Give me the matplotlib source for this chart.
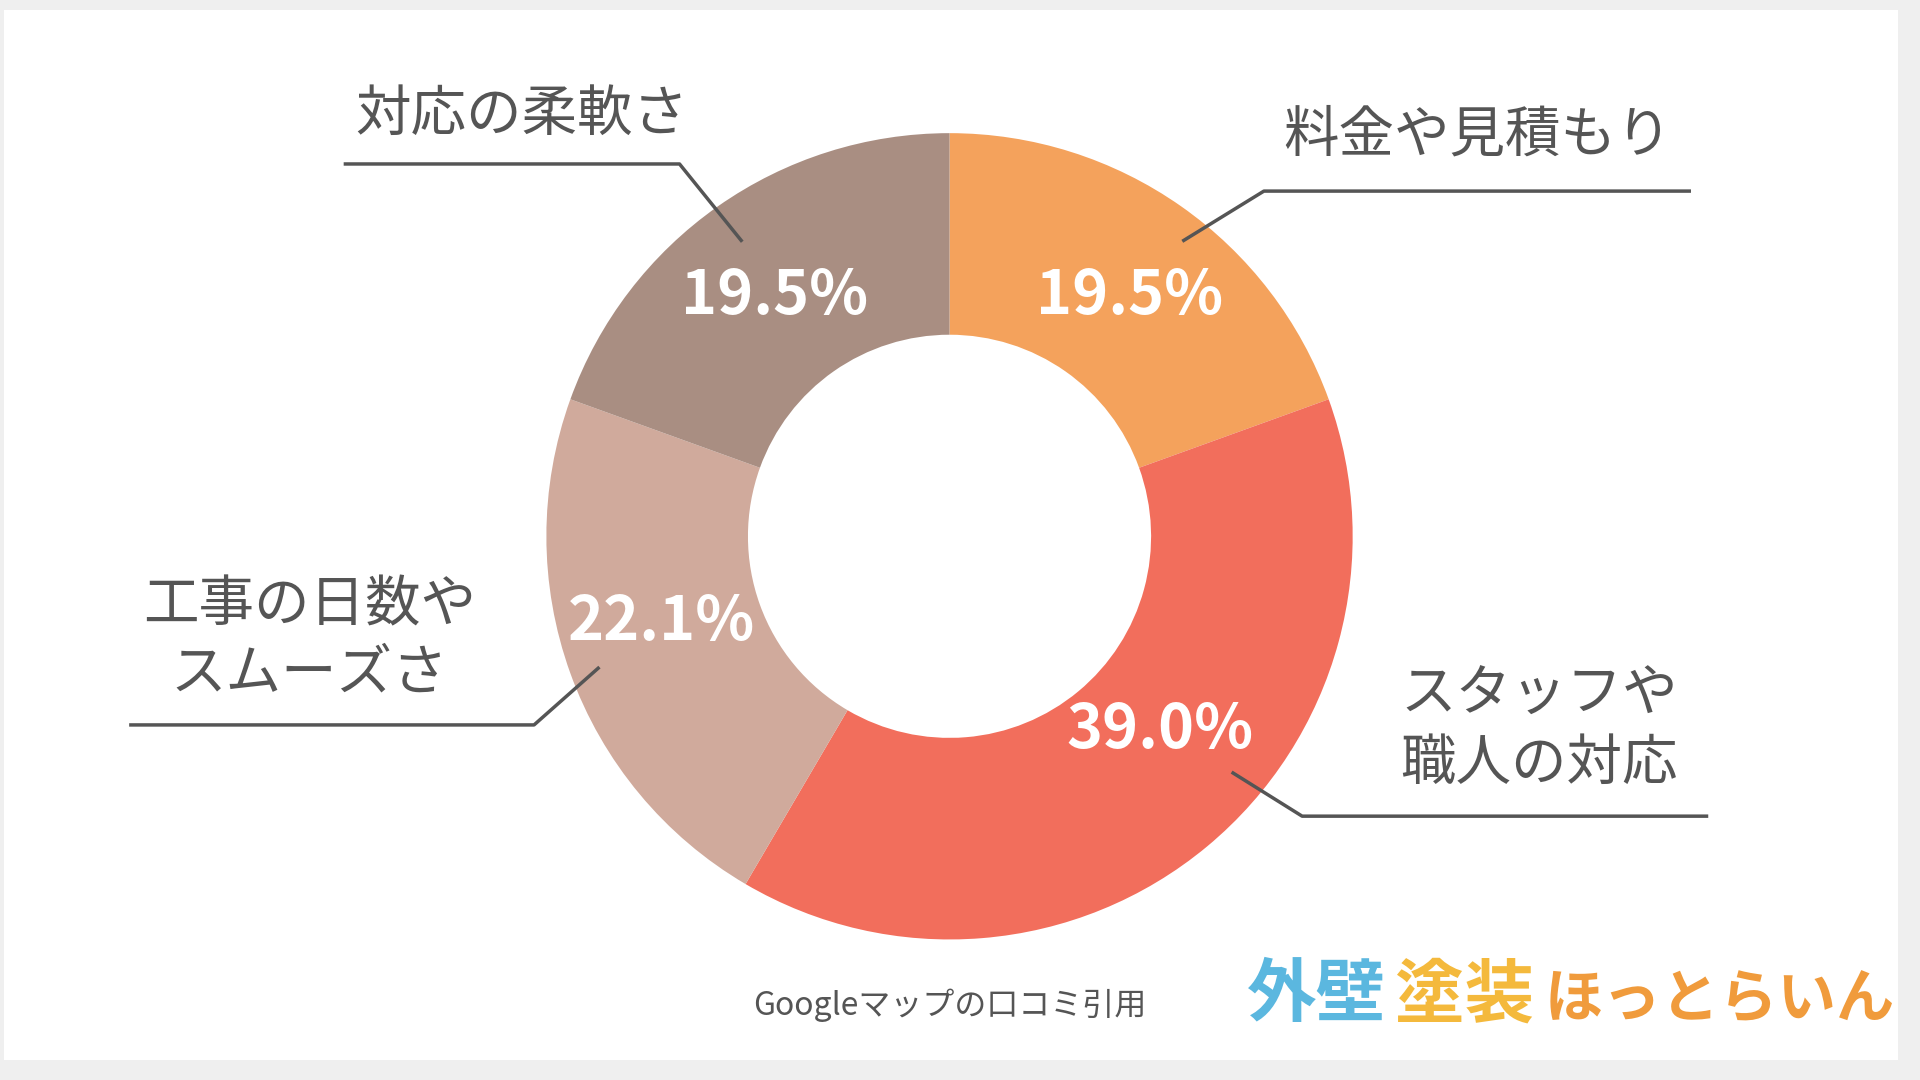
import matplotlib
matplotlib.use("Agg")
import matplotlib.pyplot as plt
from matplotlib.patches import Rectangle

categories = ["料金や見積もり", "スタッフや\n職人の対応", "工事の日数や\nスムーズさ", "対応の柔軟さ"]
values = [19.5, 39.0, 22.1, 19.5]
colors = ["#F4A25C", "#F26E5C", "#D0AA9C", "#A98E82"]
pct_labels = ["19.5%", "39.0%", "22.1%", "19.5%"]

plt.rcParams["font.family"] = "Noto Sans CJK JP"
W, H = 1551, 876
fig = plt.figure(figsize=(19.2, 10.8), dpi=100)
fig.patch.set_facecolor("#EFEFEF")
ax = fig.add_axes([0, 0, 1, 1])
ax.set_xlim(0, W); ax.set_ylim(0, H); ax.axis("off")
ax.add_patch(Rectangle((0, 16), 1536, 852, facecolor="white", edgecolor="none", zorder=0))

def Y(y): return H - y
cx, cy, R = 767, Y(435), 327
ax.pie(values, colors=colors, startangle=90, counterclock=False, center=(cx, cy), radius=R,
       wedgeprops=dict(width=R * 0.5, edgecolor="none"), frame=True)
ax.set_xlim(0, W); ax.set_ylim(0, H); ax.axis("off")

pct_pos = [(913, 240), (938, 592), (533, 505), (625, 240)]
for (x, y), t in zip(pct_pos, pct_labels):
    ax.text(x, Y(y), t, color="white", fontsize=44, fontweight="bold", ha="center", va="center")

lab_pos = [(1195, 110), (1245, 592), (248, 519), (420, 93)]
lines = [[(1367, 155), (1022, 155), (957, 195)],
         [(1381, 662), (1053, 662), (997, 627)],
         [(103, 588), (430, 588), (482, 542)],
         [(277, 133), (548, 133), (598, 195)]]
for (x, y), t, ln in zip(lab_pos, categories, lines):
    ax.text(x, Y(y), t, color="#555555", fontsize=40, ha="center", va="center", linespacing=1.25)
    ax.plot([p[0] for p in ln], [Y(p[1]) for p in ln], color="#555555", lw=2.5)

ax.text(767, Y(815), "Googleマップの口コミ引用", color="#555555", fontsize=23, ha="center", va="center")
ax.text(1008, Y(808), "外壁", color="#5BB7DF", fontsize=50, fontweight="bold", ha="left", va="center")
ax.text(1128, Y(808), "塗装", color="#F4B93C", fontsize=50, fontweight="bold", ha="left", va="center")
ax.text(1250, Y(812), "ほっとらいん", color="#F09B3C", fontsize=42, fontweight="bold", ha="left", va="center")

fig.savefig("out.png", dpi=100, facecolor=fig.get_facecolor())
